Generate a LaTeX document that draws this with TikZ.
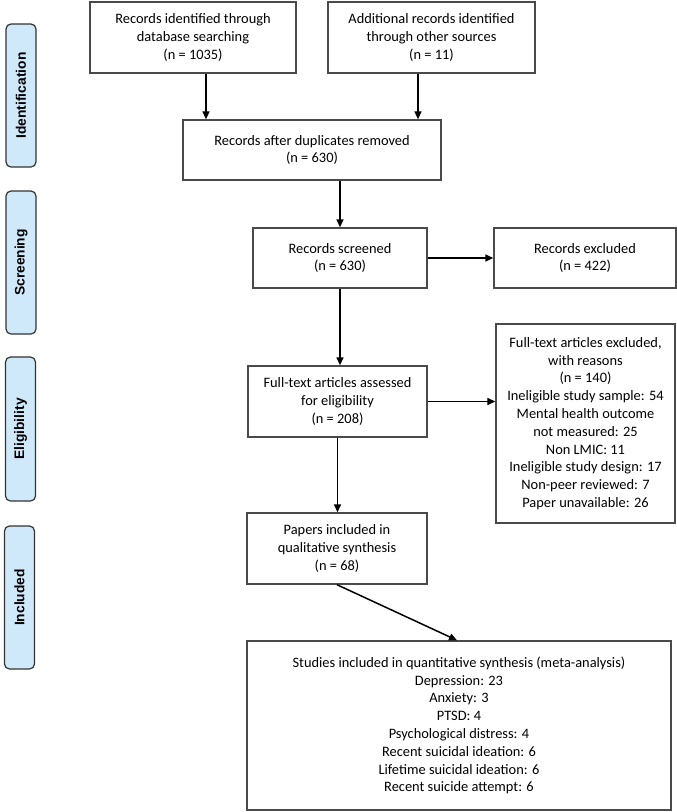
\documentclass[tikz,border=0pt]{standalone}
\usepackage{fontspec}
\setmainfont{Carlito}
\newfontfamily\lblfont{Liberation Sans}
\usetikzlibrary{arrows.meta}
\definecolor{lblfill}{HTML}{CFE9FB}
\definecolor{boxline}{HTML}{4A4A4A}
\tikzset{
  box/.style={draw=boxline, line width=1.4pt, fill=white, align=center, inner sep=2pt,
    font=\fontsize{14.4}{17.8}\selectfont},
  phase/.style={draw=black!80, line width=1.2pt, fill=lblfill, rounded corners=5pt,
    rotate=90, minimum width=143pt, minimum height=30pt, inner sep=0pt,
    font=\lblfont\bfseries\fontsize{13.8}{15}\selectfont},
  arr/.style={line width=1.5pt, -{Triangle[length=8pt,width=7pt]}}
}
\begin{document}
\begin{tikzpicture}[x=1pt,y=1pt]
\useasboundingbox (0,0) rectangle (677,-812);

% phase labels
\node[phase] (pid) at (21,-95.5) {Identification};
\node[phase] (psc) at (21,-262.5) {Screening};
\node[phase, minimum width=144pt] (pel) at (20.5,-429) {Eligibility};
\node[phase] (pin) at (19.5,-597.5) {Included};

% boxes
\node[box, minimum width=206pt, minimum height=71pt] (b1) at (193,-37.5)
  {Records identified through\\database searching\\(n = 1035)};
\node[box, minimum width=207pt, minimum height=71pt] (b2) at (431.5,-37.5)
  {Additional records identified\\through other sources\\(n = 11)};
\node[box, minimum width=258pt, minimum height=60pt] (b3) at (312,-150)
  {Records after duplicates removed\\(n = 630)};
\node[box, minimum width=174pt, minimum height=60pt] (b4) at (340,-258)
  {Records screened\\(n = 630)};
\node[box, minimum width=182pt, minimum height=60pt] (b5) at (585,-258)
  {Records excluded\\(n = 422)};
\node[box, minimum width=179pt, minimum height=199pt] (b6) at (585.5,-423.5)
  {Full-text articles excluded,\\with reasons\\(n = 140)\\Ineligible study sample: 54\\Mental health outcome\\not measured: 25\\Non LMIC: 11\\Ineligible study design: 17\\Non-peer reviewed: 7\\Paper unavailable: 26};
\node[box, minimum width=179pt, minimum height=71pt] (b7) at (337.5,-401.5)
  {Full-text articles assessed\\for eligibility\\(n = 208)};
\node[box, minimum width=180pt, minimum height=71pt] (b8) at (337,-548.5)
  {Papers included in\\qualitative synthesis\\(n = 68)};
\node[box, minimum width=424pt, minimum height=169pt] (b9) at (459,-725.5)
  {Studies included in quantitative synthesis (meta-analysis)\\Depression: 23\\Anxiety: 3\\PTSD: 4\\Psychological distress: 4\\Recent suicidal ideation: 6\\Lifetime suicidal ideation: 6\\Recent suicide attempt: 6};

% connectors
\draw[arr] ([xshift=13pt]b1.south) -- ([xshift=13pt]b1.south |- b3.north);
\draw[arr] ([xshift=-13.5pt]b2.south) -- ([xshift=-13.5pt]b2.south |- b3.north);
\draw[arr] (b4.north |- b3.south) -- (b4.north);
\draw[arr] (b4.east) -- (b5.west);
\draw[arr] (b4.south) -- (b4.south |- b7.north);
\draw[arr] (b7.east) -- (b7.east -| b6.west);
\draw[arr] (b7.south) -- (b7.south |- b8.north);
\draw[arr] (b8.south) -- ([xshift=-2pt]b9.north);
\end{tikzpicture}
\end{document}
